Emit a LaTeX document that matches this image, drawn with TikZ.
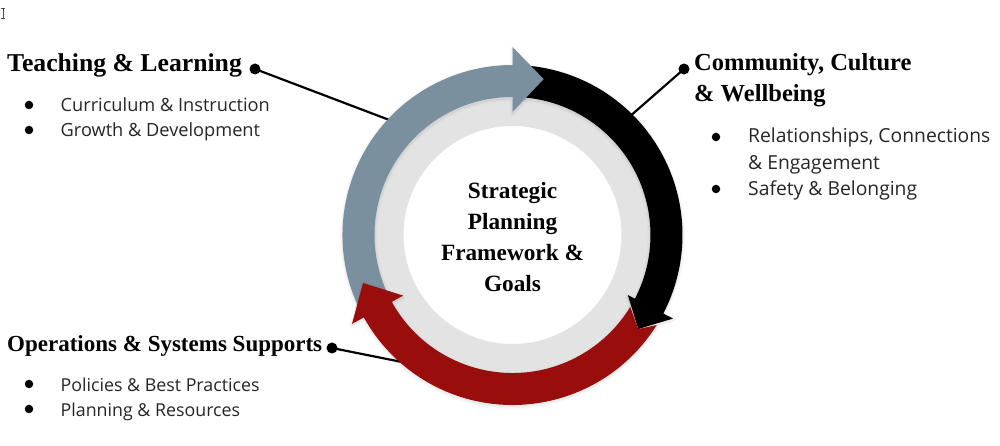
\documentclass[tikz,border=0pt]{standalone}
\usepackage{fontspec}
\setmainfont{Liberation Serif}
\newfontfamily\bodyfont{Open Sans}
\definecolor{ringgray}{HTML}{E3E3E3}
\definecolor{slatearrow}{HTML}{7A909E}
\definecolor{redarrow}{HTML}{990D0D}
\tikzset{
  x=1pt,y=1pt,
  heading/.style={anchor=base west,inner sep=0pt,font=\fontsize{24.5}{31}\selectfont\bfseries},
  centertext/.style={align=center,inner sep=0pt,font=\fontsize{23.3}{31}\selectfont\bfseries},
  itemtext/.style={anchor=base west,inner sep=0pt,text=black!85},
  leftitem/.style={itemtext,font=\bodyfont\fontsize{18.2}{25}\selectfont},
  rightitem/.style={itemtext,font=\bodyfont\fontsize{19.3}{25}\selectfont},
  bulletdot/.style={circle,fill=black,inner sep=0pt,minimum size=8.5pt},
  enddot/.style={circle,fill=black,inner sep=0pt,minimum size=11pt},
  leader/.style={draw=black,line width=2.2pt},
  softa/.style={draw=black,draw opacity=.015,line width=6pt,line join=round},
  softb/.style={draw=black,draw opacity=.025,line width=3.5pt,line join=round},
  softc/.style={draw=black,draw opacity=.035,line width=1.5pt,line join=round},
}
% #1 style, #2 start angle, #3 end angle, #4 head outer r, #5 tip angle, #6 tip r, #7 head inner r
\newcommand{\arrowband}[7]{%
  \path[#1] (#2:170pt) arc[start angle=#2,end angle=#3,radius=170pt]
    -- (#3:#4pt) -- (#5:#6pt) -- (#3:#7pt) -- (#3:138pt)
    arc[start angle=#3,end angle=#2,radius=138pt] -- cycle;}
\newcommand{\redband}[1]{%
  \path[#1] (-32:170pt) arc[start angle=-32,end angle=-151,radius=170pt]
    -- (-151:183.5pt) -- (-162.2:157pt) -- (-151:125pt) -- (-151:138pt)
    arc[start angle=-151,end angle=-31.4,radius=138pt] -- (-36.8:157pt) -- cycle;}
\newcommand{\blackband}[1]{\arrowband{#1}{86}{-27.5}{181}{-36.8}{157}{130}}
\newcommand{\slateband}[1]{\arrowband{#1}{208}{90}{188}{78.7}{159}{123}}
\begin{document}
\begin{tikzpicture}
\useasboundingbox (0,0) rectangle (1000,446);
\fill[white] (0,0) rectangle (1000,446);
% text cursor
\draw[black!70,line width=.7pt] (1,438) -- (5,438) (3,438) -- (3,428) (1,428) -- (5,428);
% dots and leaders
\node[enddot] (tl) at (255,377) {};
\node[enddot] (cc) at (684,377) {};
\node[enddot] (os) at (332,98) {};
\coordinate (tlend) at (392,325);
\coordinate (ccend) at (628,328);
\coordinate (osend) at (402,84);
\draw[leader] (tl.center) -- (tlend);
\draw[leader] (cc.center) -- (ccend);
\draw[leader] (os.center) -- (osend);
\begin{scope}[shift={(512.5,211)}]
  \fill[ringgray,even odd rule] (0,0) circle[radius=139pt] (0,0) circle[radius=109pt];
  \begin{scope}[yshift=-1.5pt]
    \blackband{softa}\blackband{softb}\blackband{softc}
    \slateband{softa}\slateband{softb}\slateband{softc}
  \end{scope}
  \blackband{fill=black}
  \slateband{fill=slatearrow}
  \begin{scope}[yshift=-1.5pt]
    \redband{softa}\redband{softb}\redband{softc}
  \end{scope}
  \redband{fill=redarrow}
  \node[centertext] (center) at (0,-2) {Strategic\\Planning\\Framework \&\\Goals};
\end{scope}
% headings
\node[heading,font=\fontsize{25.7}{31}\selectfont\bfseries] (h1) at (7,374) {Teaching \& Learning};
\node[heading] (h2) at (694,375) {Community, Culture};
\node[heading] (h2b) at (694,344) {\& Wellbeing};
\node[heading,font=\fontsize{23}{28}\selectfont\bfseries] (h3) at (7,94) {Operations \& Systems Supports};
% lists
\node[bulletdot] (b1) at (29,341) {};
\node[leftitem] (t1) at (60.5,334.5) {Curriculum \& Instruction};
\node[bulletdot] (b2) at (29,316) {};
\node[leftitem] (t2) at (60.5,309.5) {Growth \& Development};
\node[bulletdot] (b3) at (716,309) {};
\node[rightitem] (t3) at (748,303) {Relationships, Connections};
\node[rightitem] (t3b) at (748,276) {\& Engagement};
\node[bulletdot] (b4) at (716,257) {};
\node[rightitem] (t4) at (748,250) {Safety \& Belonging};
\node[bulletdot] (b5) at (29,62) {};
\node[leftitem,font=\bodyfont\fontsize{17.8}{25}\selectfont] (t5) at (60.5,54.5) {Policies \& Best Practices};
\node[bulletdot] (b6) at (29,37) {};
\node[leftitem,font=\bodyfont\fontsize{17.8}{25}\selectfont] (t6) at (60.5,29.5) {Planning \& Resources};
\end{tikzpicture}
\end{document}
